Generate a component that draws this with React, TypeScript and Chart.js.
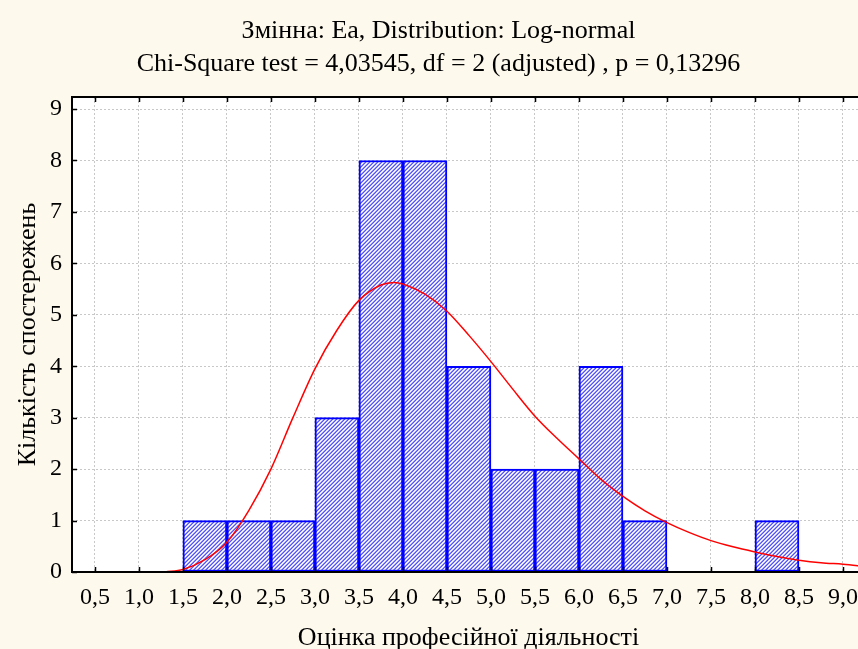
import React, { useEffect, useRef } from 'react';
import { Chart, registerables } from 'chart.js';

Chart.register(...registerables);

// Histogram bins (centre of each 0.5-wide class) and observed counts
const binCenters = [1.75, 2.25, 2.75, 3.25, 3.75, 4.25, 4.75, 5.25, 5.75, 6.25, 6.75, 8.25];
const binCounts = [1, 1, 1, 3, 8, 8, 4, 2, 2, 4, 1, 1];

// Expected (fitted log-normal) curve
const curveX = [1.3, 1.5, 1.75, 2.0, 2.25, 2.5, 2.75, 3.0, 3.25, 3.5, 3.75, 3.9, 4.0, 4.25, 4.5, 4.75, 5.0, 5.25, 5.5, 5.75, 6.0, 6.25, 6.5, 6.75, 7.0, 7.25, 7.5, 7.75, 8.0, 8.25, 8.5, 8.75, 9.0, 9.25];
const curveY = [0.0, 0.05, 0.24, 0.58, 1.2, 2.0, 3.0, 3.95, 4.7, 5.28, 5.58, 5.63, 5.6, 5.4, 5.07, 4.6, 4.09, 3.55, 3.03, 2.6, 2.2, 1.8, 1.47, 1.19, 0.96, 0.77, 0.61, 0.49, 0.39, 0.3, 0.23, 0.18, 0.15, 0.11];

// Tick values and labels
const xTickValues = [0.5, 1.0, 1.5, 2.0, 2.5, 3.0, 3.5, 4.0, 4.5, 5.0, 5.5, 6.0, 6.5, 7.0, 7.5, 8.0, 8.5, 9.0];
const xTickLabels = ['0,5', '1,0', '1,5', '2,0', '2,5', '3,0', '3,5', '4,0', '4,5', '5,0', '5,5', '6,0', '6,5', '7,0', '7,5', '8,0', '8,5', '9,0'];
const yTickValues = [0, 1, 2, 3, 4, 5, 6, 7, 8, 9];
const yTickLabels = ['0', '1', '2', '3', '4', '5', '6', '7', '8', '9'];

const titleLines = ['Змінна: Ea, Distribution: Log-normal', 'Chi-Square test = 4,03545, df = 2 (adjusted) , p = 0,13296'];
const xTitle = 'Оцінка професійної діяльності';
const yTitle = 'Кількість спостережень';

const FONT = "'Liberation Serif', 'Times New Roman', serif";

function makeHatch(): CanvasPattern | string {
  const pc = document.createElement('canvas');
  pc.width = 4;
  pc.height = 4;
  const p = pc.getContext('2d');
  if (!p) return '#8080ff';
  const img = p.createImageData(4, 4);
  // one diagonal "/" stripe per 4px, blue core with lighter blue edges
  const shades = [
    [215, 215, 255],
    [255, 255, 255],
    [150, 150, 255],
    [80, 80, 255],
  ];
  for (let yy = 0; yy < 4; yy++) {
    for (let xx = 0; xx < 4; xx++) {
      const idx = (yy * 4 + xx) * 4;
      const c = shades[(xx + yy) % 4];
      img.data[idx] = c[0];
      img.data[idx + 1] = c[1];
      img.data[idx + 2] = c[2];
      img.data[idx + 3] = 255;
    }
  }
  p.putImageData(img, 0, 0);
  const pat = p.createPattern(pc, 'repeat');
  return pat || '#8080ff';
}

const framePlugin = {
  id: 'frame',
  beforeDraw(chart: any) {
    const { ctx, chartArea: a } = chart;
    ctx.save();
    ctx.fillStyle = '#ffffff';
    ctx.fillRect(a.left, a.top, a.right - a.left, a.bottom - a.top);
    ctx.restore();
  },
  afterDatasetsDraw(chart: any) {
    const { ctx, chartArea: a, scales } = chart;
    const x = scales.x;
    const y = scales.y;
    ctx.save();
    ctx.strokeStyle = '#000000';
    ctx.lineWidth = 2;
    ctx.beginPath();
    ctx.moveTo(a.right, a.top);
    ctx.lineTo(a.left, a.top);
    ctx.lineTo(a.left, a.bottom);
    ctx.lineTo(a.right, a.bottom);
    ctx.stroke();
    ctx.lineWidth = 1.5;
    ctx.beginPath();
    for (const v of xTickValues) {
      const px = Math.round(x.getPixelForValue(v)) + 0.5;
      ctx.moveTo(px, a.bottom);
      ctx.lineTo(px, a.bottom - 5);
      ctx.moveTo(px, a.top);
      ctx.lineTo(px, a.top + 5);
    }
    for (const v of yTickValues) {
      const py = Math.round(y.getPixelForValue(v)) + 0.5;
      ctx.moveTo(a.left, py);
      ctx.lineTo(a.left + 5, py);
    }
    ctx.stroke();
    ctx.restore();
  },
};

export default function App() {
  const ref = useRef<HTMLCanvasElement>(null);

  useEffect(() => {
    const canvas = ref.current;
    if (!canvas) return;
    const hatch = makeHatch();

    const chart = new Chart(canvas, {
      type: 'bar',
      data: {
        datasets: [
          {
            type: 'line',
            label: 'Expected',
            data: curveX.map((v, i) => ({ x: v, y: curveY[i] })),
            borderColor: '#ff0000',
            borderWidth: 1.5,
            pointRadius: 0,
            fill: false,
            cubicInterpolationMode: 'monotone',
            order: 0,
          } as any,
          {
            type: 'bar',
            label: 'Observed',
            data: binCenters.map((v, i) => ({ x: v, y: binCounts[i] })),
            backgroundColor: hatch as any,
            borderColor: '#0000ff',
            borderWidth: 2,
            borderSkipped: false,
            barPercentage: 1,
            categoryPercentage: 1,
            order: 1,
          } as any,
        ],
      },
      options: {
        animation: false,
        responsive: false,
        devicePixelRatio: 1,
        layout: { padding: { left: 12, top: 0, bottom: 0, right: 15 } },
        plugins: {
          legend: { display: false },
          tooltip: { enabled: false },
          title: {
            display: true,
            text: titleLines,
            color: '#000000',
            font: { family: FONT, size: 26, weight: 'normal', lineHeight: 1.27 },
            padding: { top: 15, bottom: 16 },
          },
        },
        scales: {
          x: {
            type: 'linear',
            offset: false,
            min: 0.24,
            max: 9.25,
            afterBuildTicks: (s: any) => {
              s.ticks = xTickValues.map((v) => ({ value: v }));
            },
            afterFit: (s: any) => {
              s.height = 88;
            },
            ticks: {
              autoSkip: false,
              maxRotation: 0,
              color: '#000000',
              padding: 11.5,
              font: { family: FONT, size: 24 },
              callback: (v: any) => {
                const i = xTickValues.findIndex((t) => Math.abs(t - Number(v)) < 1e-6);
                return i >= 0 ? xTickLabels[i] : '';
              },
            },
            grid: { color: '#c8c8c8', lineWidth: 1, drawTicks: false, offset: false },
            border: { display: false, dash: [2, 2] },
            title: {
              display: true,
              text: xTitle,
              color: '#000000',
              font: { family: FONT, size: 26, lineHeight: 1.2 },
              padding: { top: 0, bottom: 6.4 },
            },
          },
          y: {
            type: 'linear',
            min: 0,
            max: 9.233,
            afterBuildTicks: (s: any) => {
              s.ticks = yTickValues.map((v) => ({ value: v }));
            },
            afterFit: (s: any) => {
              s.width = 60;
            },
            ticks: {
              color: '#000000',
              padding: 10,
              font: { family: FONT, size: 24 },
              callback: (v: any) => {
                const i = yTickValues.indexOf(Number(v));
                return i >= 0 ? yTickLabels[i] : '';
              },
            },
            grid: { color: '#c8c8c8', lineWidth: 1, drawTicks: false },
            border: { display: false, dash: [2, 2] },
            title: {
              display: true,
              text: yTitle,
              color: '#000000',
              font: { family: FONT, size: 26, lineHeight: 1.2 },
              padding: { top: 0.4, bottom: 0 },
            },
          },
        },
      } as any,
      plugins: [framePlugin],
    });

    return () => {
      chart.destroy();
    };
  }, []);

  return (
    <div
      style={{
        position: 'fixed',
        left: 0,
        top: 0,
        width: 858,
        height: 649,
        overflow: 'hidden',
        background: '#fef9ed',
      }}
    >
      <canvas ref={ref} width={880} height={660} style={{ display: 'block' }} />
    </div>
  );
}
